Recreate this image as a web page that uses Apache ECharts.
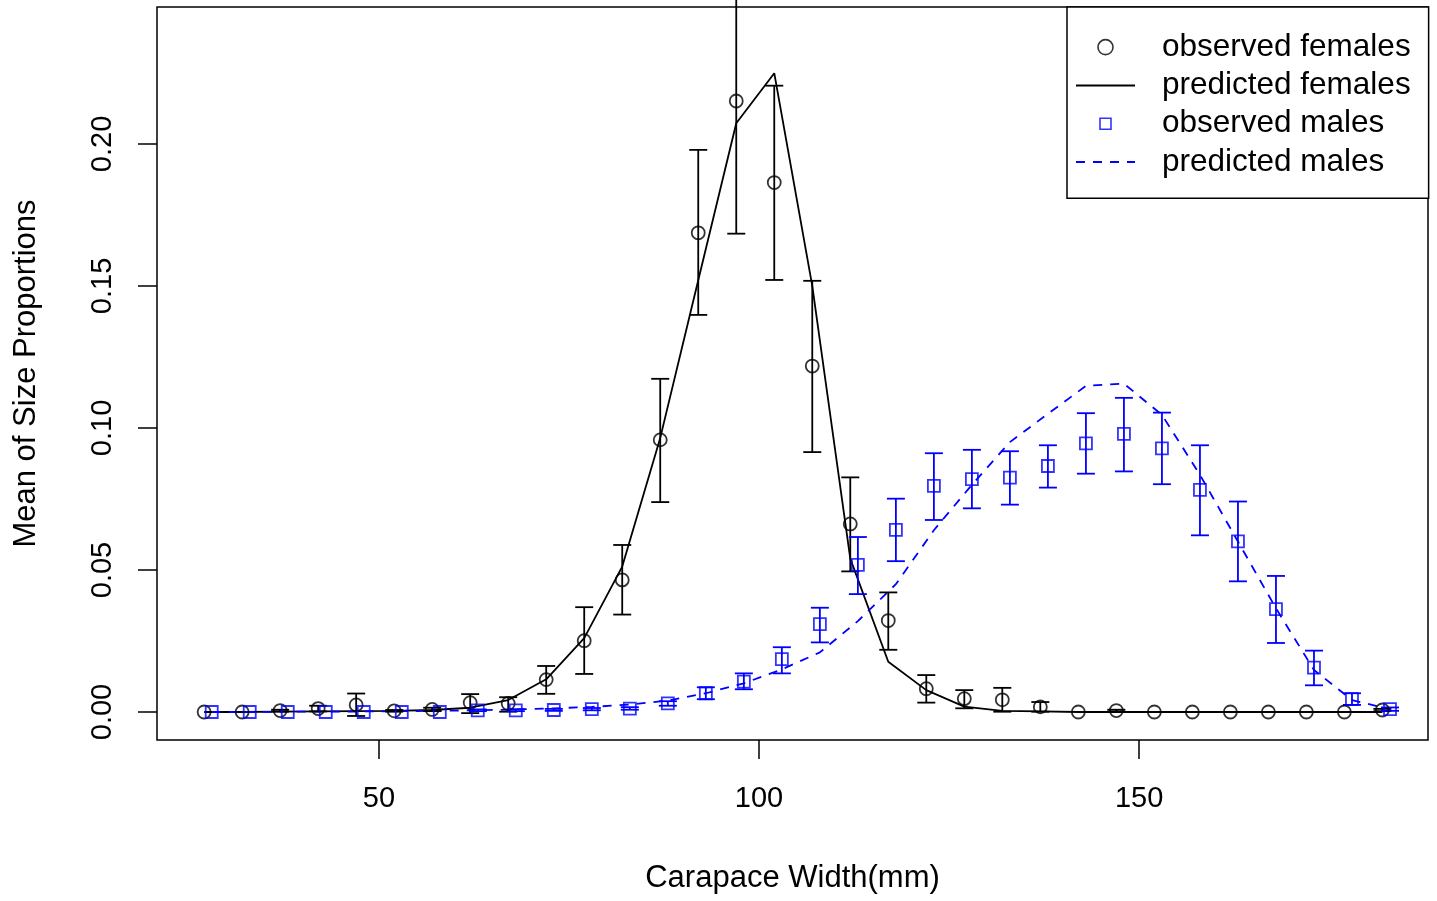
<!DOCTYPE html>
<html>
<head>
<meta charset="utf-8">
<script src="https://cdn.jsdelivr.net/npm/echarts@6/dist/echarts.min.js"></script>
<style>
html,body{margin:0;padding:0;background:#fff;}
#chart{width:1437px;height:901px;}
</style>
</head>
<body>
<div id="chart"></div>
<script>
// ---- data ----
const femaleX = [27,32,37,42,47,52,57,62,67,72,77,82,87,92,97,102,107,112,117,122,127,132,137,142,147,152,157,162,167,172,177,182];
const maleX   = [28,33,38,43,48,53,58,63,68,73,78,83,88,93,98,103,108,113,118,123,128,133,138,143,148,153,158,163,168,173,178,183];

const femaleObs  = [0,0,0.0005,0.0012,0.0025,0.0004,0.0009,0.0033,0.0030,0.0114,0.0251,0.0465,0.0958,0.1687,0.2151,0.1864,0.1218,0.0662,0.0322,0.0082,0.0047,0.0043,0.0018,0,0.0005,0,0,0,0,0,0,0.0007];
const femaleLow  = [0,0,0.0002,0.0002,-0.0014,0.0001,0.0003,-0.0004,0.0001,0.0064,0.0134,0.0343,0.0739,0.1398,0.1684,0.1521,0.0915,0.0495,0.0219,0.0033,0.0013,0.0001,0.0001,0,0.0002,0,0,0,0,0,0,0.0003];
const femaleHigh = [0,0,0.0008,0.0022,0.0065,0.0007,0.0015,0.0063,0.0052,0.0162,0.0369,0.0588,0.1173,0.1979,0.2620,0.2205,0.1518,0.0826,0.0421,0.0130,0.0077,0.0085,0.0035,0,0.0008,0,0,0,0,0,0,0.0011];
const femalePred = [0,0,0.0001,0.0002,0.0003,0.0004,0.0007,0.0015,0.0042,0.0115,0.0260,0.0512,0.0965,0.1520,0.2073,0.2249,0.1500,0.0540,0.0177,0.0077,0.0019,0.0004,0.0002,0,0,0,0,0,0,0,0,0];

const maleObs  = [0,0,0,0,0,0,0,0.0006,0.0006,0.0007,0.0010,0.0012,0.0030,0.0066,0.0107,0.0186,0.0309,0.0518,0.0641,0.0796,0.0820,0.0825,0.0866,0.0946,0.0979,0.0928,0.0782,0.0601,0.0362,0.0156,0.0045,0.0010];
const maleLow  = [0,0,0,0,0,0,0,0.0003,0.0003,0.0004,0.0006,0.0008,0.0022,0.0045,0.0080,0.0136,0.0245,0.0415,0.0531,0.0676,0.0717,0.0730,0.0790,0.0839,0.0847,0.0802,0.0622,0.0460,0.0243,0.0094,0.0025,0.0004];
const maleHigh = [0,0,0,0,0,0,0,0.0009,0.0010,0.0011,0.0014,0.0017,0.0038,0.0087,0.0136,0.0228,0.0367,0.0616,0.0751,0.0911,0.0923,0.0918,0.0939,0.1052,0.1106,0.1054,0.0939,0.0741,0.0479,0.0216,0.0066,0.0016];
const malePred = [0,0,0.0001,0.0001,0.0002,0.0003,0.0004,0.0006,0.0009,0.0013,0.0018,0.0026,0.0040,0.0066,0.0101,0.0150,0.0210,0.0320,0.0450,0.0640,0.0800,0.0950,0.1050,0.1148,0.1156,0.1046,0.0835,0.0600,0.0365,0.0148,0.0042,0.0010];

const xTicks = [50,100,150];
const yTicks = [0,0.05,0.10,0.15,0.20];

const seriesNames = ['observed females','predicted females','observed males','predicted males'];
const xTitle = 'Carapace Width(mm)';
const yTitle = 'Mean of Size Proportions';

// ---- helpers ----
const pairs = (xs, ys) => xs.map((x, i) => [x, ys[i]]);
const triples = (xs, lo, hi) => xs.map((x, i) => [x, lo[i], hi[i]]);
const FONT = 'Liberation Sans';
const LW = 1.8;

function errorBar(color) {
  return function (params, api) {
    const x = api.value(0), lo = api.value(1), hi = api.value(2);
    const p1 = api.coord([x, lo]);
    const p2 = api.coord([x, hi]);
    if (Math.abs(p1[1] - p2[1]) < 1.5) return null;
    const w = 9;
    const st = { stroke: color, lineWidth: LW };
    return {
      type: 'group',
      children: [
        { type: 'line', shape: { x1: p1[0], y1: p1[1], x2: p2[0], y2: p2[1] }, style: st },
        { type: 'line', shape: { x1: p1[0] - w, y1: p1[1], x2: p1[0] + w, y2: p1[1] }, style: st },
        { type: 'line', shape: { x1: p2[0] - w, y1: p2[1], x2: p2[0] + w, y2: p2[1] }, style: st }
      ]
    };
  };
}

const chart = echarts.init(document.getElementById('chart'), null, { renderer: 'canvas' });
chart.setOption({
  backgroundColor: '#fff',
  animation: false,
  textStyle: { fontFamily: FONT },
  grid: {
    left: 157, right: 9, top: 7, bottom: 161,
    show: true, borderColor: '#000', borderWidth: 1.5, backgroundColor: 'transparent'
  },
  xAxis: {
    type: 'value', min: 20.8, max: 188.0,
    splitLine: { show: false },
    axisLine: { show: false, onZero: false },
    axisTick: { show: true, inside: false, length: 19, lineStyle: { color: '#000', width: 1.5 }, customValues: xTicks },
    axisLabel: { customValues: xTicks, fontSize: 29, color: '#000', fontFamily: FONT, margin: 44,
      formatter: v => String(Math.round(v)) },
    name: xTitle, nameLocation: 'middle', nameGap: 123,
    nameTextStyle: { fontSize: 31, color: '#000', fontFamily: FONT, verticalAlign: 'top' }
  },
  yAxis: {
    type: 'value', min: -0.00986, max: 0.2482,
    splitLine: { show: false },
    axisLine: { show: false, onZero: false },
    axisTick: { show: true, inside: false, length: 19, lineStyle: { color: '#000', width: 1.5 }, customValues: yTicks },
    axisLabel: { customValues: yTicks, fontSize: 29, color: '#000', fontFamily: FONT, margin: 40, rotate: 90,
      formatter: v => v.toFixed(2) },
    name: yTitle, nameLocation: 'middle', nameGap: 115,
    nameTextStyle: { fontSize: 31, color: '#000', fontFamily: FONT }
  },
  legend: {
    orient: 'vertical', left: 1067, top: 7,
    symbolKeepAspect: true,
    data: [
      { name: seriesNames[0], itemStyle: { color: 'none', borderColor: '#000', borderWidth: 1.6 } },
      { name: seriesNames[1], itemStyle: { color: 'none', borderColor: 'none', borderWidth: 0, opacity: 0 } },
      { name: seriesNames[2], icon: 'path://M0,0L0,0M15,15L15,15M2,2L13,2L13,13L2,13Z',
        itemStyle: { color: 'none', borderColor: '#0000ff', borderWidth: 1.6 } },
      { name: seriesNames[3], itemStyle: { color: 'none', borderColor: 'none', borderWidth: 0, opacity: 0 } }
    ],
    backgroundColor: '#fff', borderColor: '#000', borderWidth: 1.5, borderRadius: 0,
    padding: [21, 18, 17, 8],
    itemWidth: 59, itemHeight: 15, itemGap: 0,
    selectedMode: false,
    textStyle: { fontSize: 31.5, fontFamily: FONT, color: '#000', lineHeight: 38.3, padding: [0, 0, 0, 22] }
  },
  series: [
    {
      name: 'female error', type: 'custom', renderItem: errorBar('#000'), clip: false,
      data: triples(femaleX, femaleLow, femaleHigh), z: 3
    },
    {
      name: 'male error', type: 'custom', renderItem: errorBar('#0000ff'), clip: false,
      data: triples(maleX, maleLow, maleHigh), z: 3
    },
    {
      name: seriesNames[0], type: 'scatter', symbol: 'circle', symbolSize: 13,
      itemStyle: { color: 'none', borderColor: '#000', borderWidth: LW },
      data: pairs(femaleX, femaleObs), z: 4
    },
    {
      name: seriesNames[1], type: 'line', symbol: 'none',
      lineStyle: { color: '#000', width: LW },
      itemStyle: { color: '#000' },
      data: pairs(femaleX, femalePred), z: 2
    },
    {
      name: seriesNames[2], type: 'scatter', symbol: 'rect', symbolSize: 12,
      itemStyle: { color: 'none', borderColor: '#0000ff', borderWidth: LW },
      data: pairs(maleX, maleObs), z: 4
    },
    {
      name: seriesNames[3], type: 'line', symbol: 'none',
      lineStyle: { color: '#0000ff', width: LW, type: [9, 8] },
      itemStyle: { color: '#0000ff' },
      data: pairs(maleX, malePred), z: 2
    }
  ]
});
</script>
</body>
</html>
